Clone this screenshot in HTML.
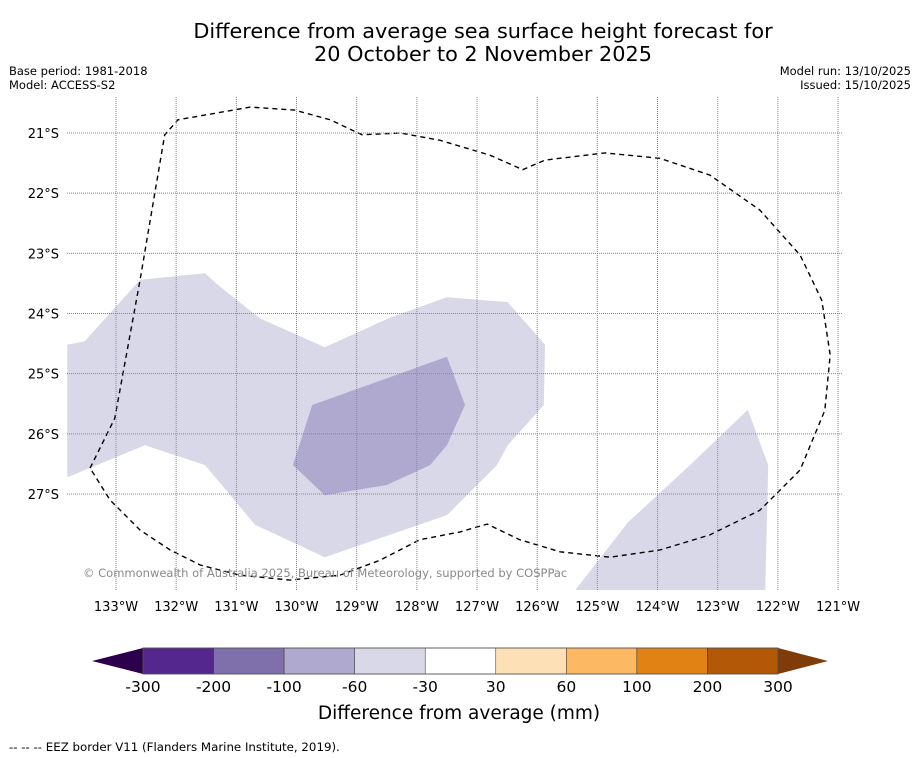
<!DOCTYPE html>
<html><head><meta charset="utf-8"><style>
body{margin:0;background:#fff;font-family:"DejaVu Sans","Liberation Sans",sans-serif}
svg{display:block}
</style></head><body>
<svg width="919" height="758" xmlns="http://www.w3.org/2000/svg" id="svg">
<text x="483" y="38" font-size="20.8" text-anchor="middle">Difference from average sea surface height forecast for</text>
<text x="483" y="61" font-size="20.8" text-anchor="middle">20 October to 2 November 2025</text>
<text x="9" y="75" font-size="11.5">Base period: 1981-2018</text>
<text x="9" y="89" font-size="11.5">Model: ACCESS-S2</text>
<text x="911" y="75" font-size="11.5" text-anchor="end">Model run: 13/10/2025</text>
<text x="911" y="89" font-size="11.5" text-anchor="end">Issued: 15/10/2025</text>
<defs><clipPath id="clip"><rect x="67" y="97" width="776" height="493"/></clipPath></defs>
<g id="map" clip-path="url(#clip)"></g>
<g id="axes"></g>
<text x="83" y="577" font-size="11.5" fill="#8a8a8a">© Commonwealth of Australia 2025, Bureau of Meteorology, supported by COSPPac</text>
<g id="cbar"></g>
<text x="459" y="719" font-size="18.5" text-anchor="middle">Difference from average (mm)</text>
<text x="9" y="751" font-size="11.8">--  --  -- EEZ border V11 (Flanders Marine Institute, 2019).</text>
</svg>
<script>
const lonTicks=[133,132,131,130,129,128,127,126,125,124,123,122,121];
const latTicks=[21,22,23,24,25,26,27];
const lightLon=[133.81,133.52,132.60,131.52,131.35,130.61,129.53,128.45,127.50,126.49,125.87,125.89,126.49,126.67,127.50,129.53,130.69,131.52,132.52,133.81];
const lightLat=[24.52,24.46,23.44,23.33,23.49,24.08,24.56,24.07,23.73,23.81,24.52,25.52,26.19,26.52,27.35,28.05,27.51,26.52,26.19,26.72];
const darkLon=[129.74,127.50,127.20,127.50,127.78,128.50,129.53,130.06];
const darkLat=[25.52,24.72,25.52,26.19,26.52,26.85,27.02,26.52];
const rightLon=[125.37,124.49,123.46,122.50,122.16,122.21];
const rightLat=[28.60,27.47,26.52,25.60,26.52,28.60];
const eezLon=[133.43,133.02,132.60,132.19,131.97,130.77,130.03,129.44,128.91,128.28,127.62,126.78,126.24,125.87,124.87,123.96,123.13,122.30,121.63,121.27,121.13,121.22,121.63,122.30,123.13,123.96,124.79,125.62,126.29,126.83,127.28,127.95,128.61,129.28,130.11,130.94,131.60,132.10,132.60,133.10,133.43];
const eezLat=[26.57,25.74,23.44,21.03,20.78,20.57,20.62,20.78,21.03,21.00,21.12,21.37,21.61,21.45,21.33,21.42,21.70,22.28,23.03,23.78,24.69,25.61,26.60,27.27,27.68,27.93,28.05,27.96,27.76,27.50,27.63,27.76,28.10,28.35,28.43,28.35,28.18,27.93,27.60,27.10,26.57];
const cbLabels=["-300","-200","-100","-60","-30","30","60","100","200","300"];
const cbColors=["#54278f","#7f6fab","#b0a9cf","#d8d8e8","#ffffff","#fee0b6","#fcb863","#e08214","#b35806"];
const cbLow="#2d004b", cbHigh="#7f3b08";

const NS="http://www.w3.org/2000/svg";
const sx=lon=>116+(133-lon)*60.17;
const sy=lat=>133+(lat-21)*60.17;
function mk(tag,attrs,parent){const e=document.createElementNS(NS,tag);for(const k in attrs)e.setAttribute(k,attrs[k]);parent.appendChild(e);return e;}
const map=document.getElementById('map'),axes=document.getElementById('axes'),cbar=document.getElementById('cbar');
function pts(lo,la){return lo.map((v,i)=>sx(v).toFixed(1)+','+sy(la[i]).toFixed(1)).join(' ');}
let p=mk('polygon',{points:pts(lightLon,lightLat),fill:'#d8d8e8'},map);


p=mk('polygon',{points:pts(rightLon,rightLat),fill:'#d8d8e8'},map);


p=mk('polygon',{points:pts(darkLon,darkLat),fill:'#b0a9cf'},map);


lonTicks.forEach(l=>{const x=sx(l);
 let g=mk('line',{x1:x,x2:x,y1:97,y2:590,stroke:'#888','stroke-width':1,'stroke-dasharray':'1,1'},axes);
 
 
 let t=mk('text',{x:x,y:611,'font-size':13,'text-anchor':'middle'},axes);t.textContent=l+'°W';
 
 });
latTicks.forEach(l=>{const y=sy(l);
 let g=mk('line',{x1:67,x2:843,y1:y,y2:y,stroke:'#888','stroke-width':1,'stroke-dasharray':'1,1'},axes);
 
 
 let t=mk('text',{x:59,y:y+5,'font-size':13,'text-anchor':'end'},axes);t.textContent=l+'°S';
 
 });
let e=mk('polyline',{points:pts(eezLon,eezLat),fill:'none',stroke:'#000','stroke-width':1.4,'stroke-dasharray':'5,4'},map);


const cx0=143,cw=(778-143)/cbColors.length,cy=648,ch=26;
let tr=mk('polygon',{points:`${cx0},${cy} 92,${cy+ch/2} ${cx0},${cy+ch}`,fill:cbLow},cbar);


tr=mk('polygon',{points:`778,${cy} 828,${cy+ch/2} 778,${cy+ch}`,fill:cbHigh},cbar);


cbColors.forEach((c,i)=>{let r=mk('rect',{x:cx0+i*cw,y:cy,width:cw,height:ch,fill:c,stroke:'#333','stroke-width':0.5},cbar);
 
 });
mk('rect',{x:cx0,y:cy,width:778-cx0,height:ch,fill:'none',stroke:'#555','stroke-width':0.8},cbar);
cbLabels.forEach((s,i)=>{let t=mk('text',{x:cx0+i*cw,y:692,'font-size':15.5,'text-anchor':'middle'},cbar);t.textContent=s;
 
 });
</script>
</body></html>
